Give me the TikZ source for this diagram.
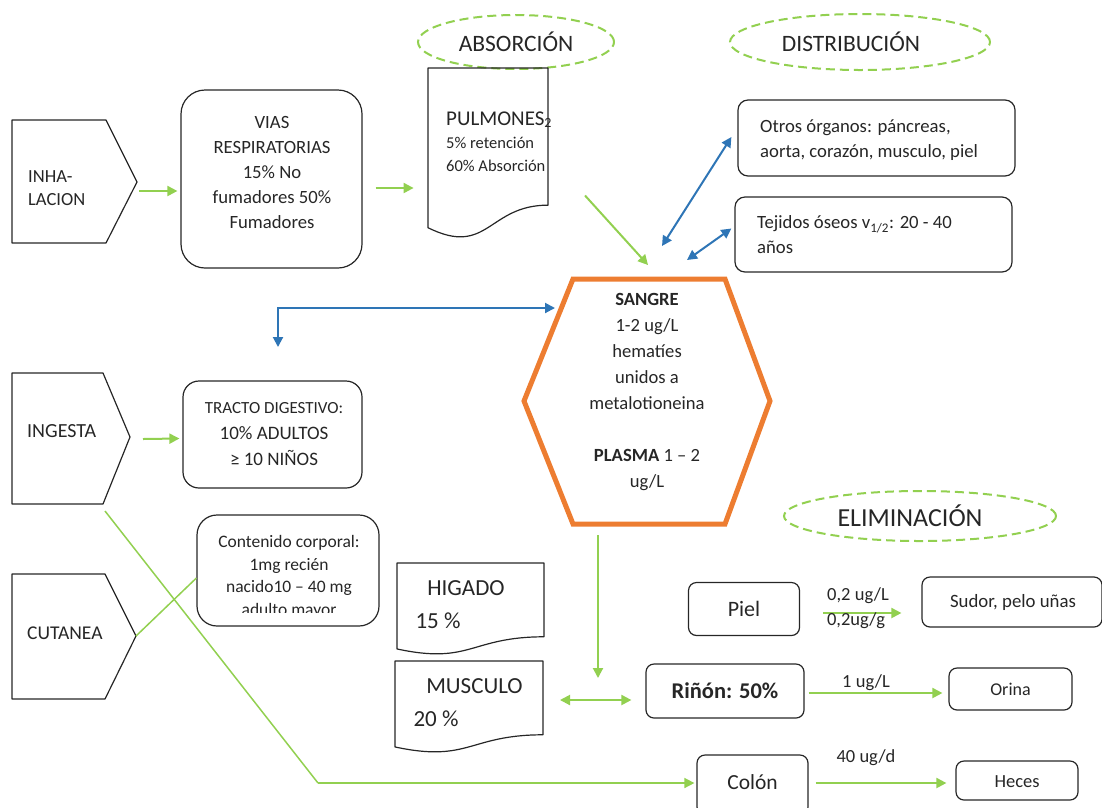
\documentclass[tikz,border=0pt]{standalone}
\usepackage{fontspec}
\setmainfont{Carlito}
\usetikzlibrary{arrows.meta,shapes.geometric,calc}
\definecolor{grn}{HTML}{92D050}
\definecolor{blu}{HTML}{2E75B6}
\definecolor{org}{HTML}{ED7D31}
\definecolor{ink}{HTML}{262626}
\newcommand{\mydoc}[5]{% name, x, y, w, h
  \draw[shapeline] (#2,#3) -- ({#2+#4},#3) -- ({#2+#4},{#3+0.802*#5})
    .. controls ({#2+#4/2},{#3+0.802*#5}) and ({#2+#4/2},{#3+1.1075*#5}) .. ({#2},{#3+0.934*#5}) -- cycle;
  \coordinate (#1) at ({#2+#4/2},{#3+#5/2});}
\begin{document}
\begin{tikzpicture}[x=1pt,y=-1pt,
  shapeline/.style={draw=ink, line width=1.2pt, line join=round},
  box/.style={draw=ink, line width=1.2pt, rounded corners=10pt, inner sep=0pt},
  txt/.style={text=ink, align=center, inner sep=0pt, font=\fontsize{18.7}{25}\selectfont},
  phase/.style={ellipse, draw=grn, line width=2pt, dash pattern=on 9pt off 5pt, inner sep=0pt},
  ptxt/.style={text=ink, inner sep=0pt, font=\fontsize{23.5}{26}\selectfont},
  garrow/.style={draw=grn, line width=2pt, -{Triangle[length=10pt,width=10pt]}},
  gdarrow/.style={draw=grn, line width=2pt, {Triangle[length=10pt,width=10pt]}-{Triangle[length=10pt,width=10pt]}},
  bdarrow/.style={draw=blu, line width=2pt, {Triangle[length=10pt,width=10pt]}-{Triangle[length=10pt,width=10pt]}},
  gline/.style={draw=grn, line width=1.5pt},
  lbl/.style={text=ink, inner sep=0pt, font=\fontsize{18.5}{21}\selectfont}]
\useasboundingbox (0,0) rectangle (1102,807);
\clip (0,0) rectangle (1102,807);

% phase ellipses
\node[phase, minimum width=196, minimum height=54] (abs) at (516,42) {};
\node[ptxt] (abst) at (516,42) {ABSORCIÓN};
\node[phase, minimum width=260, minimum height=56] (dist) at (860,42) {};
\node[ptxt] (distt) at (851,42) {DISTRIBUCIÓN};
\node[phase, minimum width=272, minimum height=50] (elim) at (920,516) {};
\node[ptxt, font=\fontsize{26}{28}\selectfont] (elimt) at (910,516) {ELIMINACIÓN};

% entry pentagons
\draw[shapeline] (12,120) -- (106,120) -- (137,182) -- (106,243) -- (12,243) -- cycle;
\coordinate (inhaTip) at (137,182);
\node[txt, anchor=west, align=left, font=\fontsize{18.5}{23.5}\selectfont] (inha) at (28,188) {INHA-\\LACION};

\draw[shapeline] (12,373) -- (103,373) -- (130,437) -- (103,504) -- (12,504) -- cycle;
\coordinate (ingTip) at (130,437);
\coordinate (ingBot) at (105,511);
\node[txt, anchor=west, font=\fontsize{20}{24}\selectfont] (ing) at (27,431) {INGESTA};

\draw[shapeline] (12,574) -- (105,574) -- (136,636) -- (105,699) -- (12,699) -- cycle;
\coordinate (cutTip) at (136,636);
\node[txt, anchor=west, font=\fontsize{19.5}{24}\selectfont] (cut) at (27,633) {CUTANEA};

% absorption boxes
\node[box, rounded corners=24pt, minimum width=181, minimum height=178] (vias) at (271.5,179) {};
\node[txt] (viast) at (272,172) {VIAS\\RESPIRATORIAS\\15\% No\\fumadores 50\%\\Fumadores};

\mydoc{pulm}{428}{68}{120}{171}
\node[txt, anchor=north west, align=left, font=\fontsize{16.5}{23}\selectfont] (pulmt) at (446,112)
  {{\fontsize{21}{23}\selectfont PULMONES\raisebox{-1.5pt}{\fontsize{14}{14}\selectfont 2}}\\5\% retención\\60\% Absorción};

\node[box, rounded corners=16pt, minimum width=179, minimum height=107] (tracto) at (272.5,434.5) {};
\node[txt, font=\fontsize{19}{26}\selectfont] (tractot) at (274,434)
  {{\fontsize{17}{26}\selectfont TRACTO DIGESTIVO:}\\10\% ADULTOS\\≥ 10 NIÑOS};

\node[box, rounded corners=20pt, minimum width=182, minimum height=111] (cont) at (288,570.5) {};
\begin{scope}
\clip (200,517) rectangle (376,612);
\node[txt, font=\fontsize{17.5}{22.5}\selectfont] (contt) at (289,577)
  {Contenido corporal:\\1mg recién\\nacido10 – 40 mg\\adulto mayor};
\end{scope}

% hexagon
\draw[draw=org, line width=5pt, line join=miter] (573,279) -- (725,279) -- (770,401) -- (725,524) -- (573,524) -- (524,401) -- cycle;
\coordinate (hexTop) at (649,279);
\coordinate (hexBot) at (598,524);
\coordinate (hexLeft) at (555,308);
\node[txt, font=\fontsize{18.6}{26}\selectfont] (sangre) at (647,392)
  {\textbf{SANGRE}\\1-2 ug/L\\hematíes\\unidos a\\metalotioneina\\[26pt]\textbf{PLASMA} 1 – 2\\ug/L};

% distribution boxes
\node[box, minimum width=277, minimum height=76] (otros) at (876.5,138) {};
\node[txt, anchor=west, align=left] (otrost) at (760,140) {Otros órganos: páncreas,\\aorta, corazón, musculo, piel};
\node[box, minimum width=277, minimum height=75] (tej) at (873.5,234.5) {};
\node[txt, anchor=west, align=left] (tejt) at (757,235) {Tejidos óseos v\textsubscript{1/2}: 20 - 40\\años};

\mydoc{hig}{397}{563}{147}{92}
\node[txt, font=\fontsize{23}{26}\selectfont] (higt) at (466,588) {HIGADO};
\node[txt, font=\fontsize{23}{26}\selectfont] (hig2) at (438,621) {15 \%};
\mydoc{mus}{395}{661}{148}{92}
\node[txt, font=\fontsize{23}{26}\selectfont] (must) at (474.5,686) {MUSCULO};
\node[txt, font=\fontsize{23}{26}\selectfont] (mus2) at (436,719) {20 \%};

% elimination boxes
\node[box, rounded corners=8pt, minimum width=111, minimum height=53] (piel) at (744,609) {};
\node[txt, font=\fontsize{22}{24}\selectfont] (pielt) at (744,609) {Piel};
\node[box, rounded corners=8pt, minimum width=180, minimum height=50] (sudor) at (1012,602) {};
\node[txt, font=\fontsize{18.8}{22}\selectfont] (sudort) at (1013,602) {Sudor, pelo uñas};
\node[box, rounded corners=8pt, minimum width=158, minimum height=54] (rinon) at (725,691) {};
\node[txt, font=\fontsize{22.5}{24}\selectfont] (rinont) at (725,691) {\textbf{Riñón: 50\%}};
\node[box, rounded corners=8pt, minimum width=123, minimum height=42] (orina) at (1010.5,689) {};
\node[txt, font=\fontsize{18}{22}\selectfont] (orinat) at (1010.5,689) {Orina};
\node[box, rounded corners=8pt, minimum width=111, minimum height=60] (colon) at (752.5,785) {};
\node[txt, font=\fontsize{21.5}{24}\selectfont] (colont) at (752.5,782) {Colón};
\node[box, rounded corners=8pt, minimum width=122, minimum height=39] (heces) at (1017,780.5) {};
\node[txt, font=\fontsize{18.5}{22}\selectfont] (hecest) at (1017,781.5) {Heces};

% connectors: absorption
\draw[garrow] ($(inhaTip)+(2,9)$) -- ($(vias.west)+(-3,12)$);
\draw[garrow] ($(vias.east)+(13,9)$) -- ($(vias.east)+(51,9)$);
\draw[garrow] ($(pulm)+(97,42)$) -- ($(hexTop)+(-1,-14)$);
\draw[garrow] ($(ingTip)+(13,2)$) -- ($(tracto.west)+(-3,4)$);
\draw[gline] (cutTip) -- ($(cont.west)+(0,7.5)$);
\coordinate (bend) at (318,783);
\draw[gline] (ingBot) -- (bend);
\draw[garrow, line width=1.5pt] (bend) -- ($(colon.west)+(-2,-2)$);

% distribution
\draw[bdarrow] (662,246) -- ($(otros.west)+(-6,-1)$);
\draw[bdarrow] (687,260) -- ($(tej.west)+(-3,-6)$);
\draw[draw=blu, line width=2pt, {Triangle[length=10pt,width=10pt]}-{Triangle[length=10pt,width=10pt]}]
  (278,347) -- (278,308) -- (hexLeft);

% elimination
\draw[garrow] ($(hexBot)+(0,11)$) -- (598,678);
\draw[gdarrow] (560,700) -- ($(rinon.west)+(-14,9)$);
\draw[garrow] ($(rinon.east)+(4,2)$) -- ($(orina.west)+(-6,4)$);
\node[lbl] (l1) at (866,683) {1 ug/L};
\draw[garrow] ($(piel.east)+(23,4)$) -- ($(sudor.west)+(-20,11)$);
\node[lbl] (l2) at (858,596) {0,2 ug/L};
\node[lbl] (l3) at (856,621) {0,2ug/g};
\draw[garrow] ($(colon.east)+(7,-2)$) -- ($(heces.west)+(-9,2.5)$);
\node[lbl] (l4) at (866,758) {40 ug/d};
\end{tikzpicture}
\end{document}
